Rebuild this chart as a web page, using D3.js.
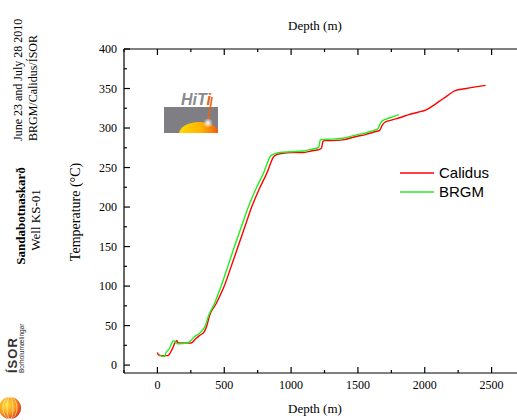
<!DOCTYPE html>
<html>
<head>
<meta charset="utf-8">
<script src="https://cdn.jsdelivr.net/npm/d3@7"></script>
<style>
  html,body{margin:0;padding:0;background:#fff;}
  svg{display:block;}
  .serif{font-family:"Liberation Serif","Times New Roman",serif;}
  .sans{font-family:"Liberation Sans",Arial,sans-serif;}
</style>
</head>
<body>
<svg id="chart" width="517" height="420"></svg>
<script>
// Calidus log (red)
const calidusDepth = [0,8,30,77,107,134,145,152,165,200,252,290,320,350,370,389,440,500,550,603,652,705,765,826,848,866,888,938,1000,1088,1150,1213,1228,1238,1250,1300,1387,1480,1562,1620,1662,1680,1699,1750,1811,1880,1949,2011,2060,2111,2170,2223,2310,2380,2455];
const calidusTemp  = [16,13,12,12,19,29,31,29,28,28,28,34,38,42,50,62,78,100,124,150,174,200,224,246,256,263,266,268,269,269,271,273,275,283,284,284,285,289,292,295,297,303,307,310,313,317,320,323,328,334,341,347,350,352,354];
// BRGM log (green)
const brgmDepth = [15,35,52,65,90,105,120,130,140,152,227,250,277,314,340,359,377,427,477,525,576,626,680,740,801,823,843,870,913,1000,1088,1150,1207,1212,1218,1300,1387,1480,1562,1620,1649,1665,1682,1740,1806];
const brgmTemp  = [13,11,11,16,21,27,31,30,28,27,28,31,36,40,45,50,60,78,100,124,150,174,200,224,246,256,264,267,269,270,271,273,275.5,280,285,286,287,291,294,297,299,305,309,313,317];

const xTicks = [0,500,1000,1500,2000,2500];
const yTicks = [0,50,100,150,200,250,300,350,400];
const seriesNames = ['Calidus','BRGM'];
const seriesColors = ['#ff0000','#22ee22'];

const svg = d3.select('#chart');
const L=124, T=49, B=373, R=517;
const x = d3.scaleLinear().domain([-250,2690]).range([L,R]);
const y = d3.scaleLinear().domain([-10,400]).range([B,T]);

const defs = svg.append('defs');

// frame + inward ticks (majors every 500/50, minors every 250/25)
const gAxes = svg.append('g').attr('stroke','#000').attr('stroke-width',1.2);
gAxes.append('line').attr('x1',L).attr('x2',R).attr('y1',B).attr('y2',B);
gAxes.append('line').attr('x1',L).attr('x2',R).attr('y1',T).attr('y2',T);
gAxes.append('line').attr('x1',L).attr('x2',L).attr('y1',T).attr('y2',B);

d3.range(-250,2751,250).forEach(v=>{
  const len = v%500===0 ? 6 : 3;
  gAxes.append('line').attr('x1',x(v)).attr('x2',x(v)).attr('y1',B).attr('y2',B-len);
  gAxes.append('line').attr('x1',x(v)).attr('x2',x(v)).attr('y1',T).attr('y2',T+len);
});
d3.range(0,401,25).forEach(v=>{
  const len = v%50===0 ? 6 : 3;
  gAxes.append('line').attr('x1',L).attr('x2',L+len).attr('y1',y(v)).attr('y2',y(v));
});

svg.append('g').attr('class','serif').attr('font-size',12).attr('text-anchor','middle')
  .selectAll('text').data(xTicks).join('text')
  .attr('x',d=>x(d)).attr('y',389).text(d=>d);
svg.append('g').attr('class','serif').attr('font-size',12).attr('text-anchor','end')
  .selectAll('text').data(yTicks).join('text')
  .attr('x',117).attr('y',d=>y(d)+4).text(d=>d);

// titles
svg.append('text').attr('class','serif').attr('font-size',13).attr('text-anchor','middle')
  .attr('x',315).attr('y',30).text('Depth (m)');
svg.append('text').attr('class','serif').attr('font-size',13).attr('text-anchor','middle')
  .attr('x',315).attr('y',413).text('Depth (m)');
svg.append('text').attr('class','serif').attr('font-size',14).attr('text-anchor','middle')
  .attr('transform','translate(80,212) rotate(-90)').text('Temperature (°C)');

// side texts
const side = svg.append('g').attr('class','serif').attr('font-size',12);
side.append('text').attr('transform','translate(22,141) rotate(-90)').text('June 23 and July 28 2010');
side.append('text').attr('transform','translate(37,141) rotate(-90)').text('BRGM/Calidus/ÍSOR');
side.append('text').attr('transform','translate(25,216) rotate(-90)').attr('text-anchor','middle')
  .attr('font-size',13).attr('font-weight','bold').text('Sandabotnaskarð');
side.append('text').attr('transform','translate(40,220) rotate(-90)').attr('text-anchor','middle')
  .attr('font-size',13).text('Well KS-01');

// ÍSOR logo
const gg = defs.append('radialGradient').attr('id','globe').attr('cx','35%').attr('cy','35%').attr('r','70%');
gg.append('stop').attr('offset','0%').attr('stop-color','#ffe23a');
gg.append('stop').attr('offset','60%').attr('stop-color','#f59a1c');
gg.append('stop').attr('offset','100%').attr('stop-color','#d8321a');
svg.append('circle').attr('cx',10).attr('cy',408).attr('r',11).attr('fill','url(#globe)');
[3,7].forEach(rx=>svg.append('ellipse').attr('cx',10).attr('cy',408).attr('rx',rx).attr('ry',11)
  .attr('fill','none').attr('stroke','#fff3c0').attr('stroke-width',0.8).attr('opacity',0.7));
svg.append('text').attr('class','sans').attr('font-size',13).attr('font-weight','bold')
  .attr('letter-spacing',1).attr('transform','translate(17,373) rotate(-90)').attr('fill','#333').text('ÍSOR');
svg.append('text').attr('class','sans').attr('font-size',6.5)
  .attr('transform','translate(24,373) rotate(-90)').attr('fill','#333').text('Borholumælingar');

// HiTi logo
svg.append('rect').attr('x',164).attr('y',107).attr('width',54).attr('height',26).attr('fill','#7e7e84');
const dg = defs.append('linearGradient').attr('id','dome').attr('x1','0%').attr('x2','100%');
dg.append('stop').attr('offset','0%').attr('stop-color','#ffd800');
dg.append('stop').attr('offset','55%').attr('stop-color','#ffb400');
dg.append('stop').attr('offset','100%').attr('stop-color','#ee5a10');
defs.append('clipPath').attr('id','domeclip').append('rect').attr('x',164).attr('y',100).attr('width',54).attr('height',33);
svg.append('ellipse').attr('cx',199).attr('cy',134).attr('rx',20).attr('ry',12)
  .attr('fill','url(#dome)').attr('clip-path','url(#domeclip)');
svg.append('line').attr('x1',212).attr('y1',97).attr('x2',208).attr('y2',122)
  .attr('stroke','#e8661a').attr('stroke-width',1.6);
const glare = defs.append('radialGradient').attr('id','glare');
glare.append('stop').attr('offset','0%').attr('stop-color','#fff').attr('stop-opacity',1);
glare.append('stop').attr('offset','100%').attr('stop-color','#fff').attr('stop-opacity',0);
svg.append('circle').attr('cx',208).attr('cy',123).attr('r',5).attr('fill','url(#glare)');
const hiti = svg.append('text').attr('class','sans').attr('font-size',16).attr('font-weight','bold')
  .attr('font-style','italic').attr('x',181).attr('y',105);
hiti.append('tspan').attr('fill','#8a8a8e').text('HiT');
hiti.append('tspan').attr('fill','#e8661a').text('i');

// series
const line = d3.line().x(d=>x(d[0])).y(d=>y(d[1])).curve(d3.curveMonotoneX);
const series = [
  d3.zip(calidusDepth, calidusTemp),
  d3.zip(brgmDepth, brgmTemp)
];
series.forEach((s,i)=>{
  svg.append('path').datum(s).attr('d',line).attr('fill','none')
    .attr('stroke',seriesColors[i]).attr('stroke-width',1.4).attr('stroke-linejoin','round');
});

// legend
const lg = svg.append('g').attr('class','sans').attr('font-size',15);
seriesNames.forEach((n,i)=>{
  const yy = 173 + i*19;
  lg.append('line').attr('x1',400).attr('x2',434).attr('y1',yy).attr('y2',yy)
    .attr('stroke',seriesColors[i]).attr('stroke-width',1.4);
  lg.append('text').attr('x',439).attr('y',yy+5).text(n);
});
</script>
</body>
</html>
